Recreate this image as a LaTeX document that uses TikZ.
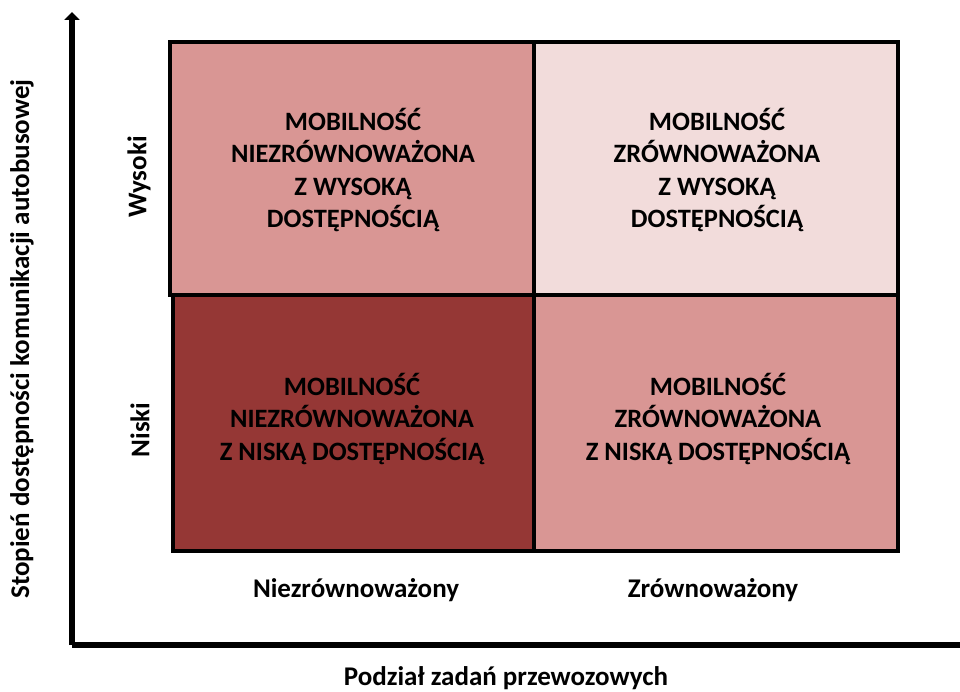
\documentclass[tikz,border=0pt]{standalone}
\usepackage{fontspec}
\setmainfont{Carlito}
\usetikzlibrary{arrows.meta}
\definecolor{midpink}{HTML}{D99694}
\definecolor{lightpink}{HTML}{F2DCDB}
\definecolor{darkred}{HTML}{953735}
\tikzset{
  cell/.style={draw=black,line width=4pt,inner sep=0pt},
  celltext/.style={font=\fontsize{26.5}{32.5}\selectfont\bfseries,align=center,text=black},
  lbl/.style={font=\fontsize{27}{30}\selectfont\bfseries,text=black},
  axis/.style={line width=6.5pt,black},
}
\begin{document}
\begin{tikzpicture}[x=1pt,y=-1pt]
\useasboundingbox (0,0) rectangle (960,692);
% cells
\filldraw[cell,fill=midpink] (170,42) rectangle (534,295);
\filldraw[cell,fill=lightpink] (534,42) rectangle (898,295);
\filldraw[cell,fill=darkred] (173,295) rectangle (534,551);
\filldraw[cell,fill=midpink] (534,295) rectangle (898,551);
\node[celltext] (tl) at (353,170) {MOBILNOŚĆ\\NIEZRÓWNOWAŻONA\\Z WYSOKĄ\\DOSTĘPNOŚCIĄ};
\node[celltext] (tr) at (717,170) {MOBILNOŚĆ\\ZRÓWNOWAŻONA\\Z WYSOKĄ\\DOSTĘPNOŚCIĄ};
\node[celltext] (bl) at (352,419) {MOBILNOŚĆ\\NIEZRÓWNOWAŻONA\\Z NISKĄ DOSTĘPNOŚCIĄ};
\node[celltext] (br) at (718,419) {MOBILNOŚĆ\\ZRÓWNOWAŻONA\\Z NISKĄ DOSTĘPNOŚCIĄ};
% axes
\coordinate (origin) at (72,645);
\coordinate (ytop) at (72,12);
\coordinate (xend) at (960,645);
\draw[axis,-{Triangle[length=8pt,width=15pt]}] (origin) -- (ytop);
\draw[axis] (origin) -- (xend);
% labels
\node[lbl] (nz) at (356,590) {Niezrównoważony};
\node[lbl] (zr) at (713,590) {Zrównoważony};
\node[lbl,rotate=90] (wy) at (139,177) {Wysoki};
\node[lbl,rotate=90] (ni) at (140,430) {Niski};
\node[lbl,rotate=90] (ylab) at (22,339) {Stopień dostępności komunikacji autobusowej};
\node[lbl,anchor=base] (xlab) at (506,685) {Podział zadań przewozowych};
\end{tikzpicture}
\end{document}
